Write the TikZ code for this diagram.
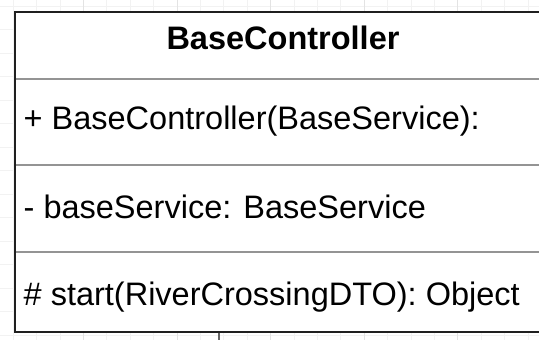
\documentclass[tikz,border=0pt]{standalone}
\usepackage{fontspec}
\setmainfont{Liberation Sans}
\begin{document}
\begin{tikzpicture}[x=1pt,y=-1pt,
  gridminor/.style={draw=black!5,line width=0.8pt},
  gridmajor/.style={draw=black!11,line width=0.9pt},
  classframe/.style={draw=black!88,line width=2pt,fill=white},
  divider/.style={draw=black!42,line width=1.3pt},
  member/.style={anchor=base west,inner sep=0pt,font=\fontsize{32.5}{39}\selectfont},
  classtitle/.style={anchor=base,inner sep=0pt,font=\bfseries\fontsize{32.5}{39}\selectfont}]
  \useasboundingbox (0,0) rectangle (539,340);
  \fill[white] (0,0) rectangle (539,340);
  % background grid
  \foreach \i in {0,...,22} {
    \pgfmathsetmacro{\gx}{13.2+23.4*\i}
    \draw[gridminor] (\gx,0) -- (\gx,340);
  }
  \foreach \i in {0,...,14} {
    \pgfmathsetmacro{\gy}{6+23.5*\i}
    \draw[gridminor] (0,\gy) -- (539,\gy);
  }
  \foreach \i in {0,...,4} {
    \pgfmathsetmacro{\gx}{83.4+93.6*\i}
    \draw[gridmajor] (\gx,0) -- (\gx,340);
  }
  % class box corners and compartment boundaries
  \coordinate (tl) at (15,12);
  \coordinate (br) at (552,332);
  \coordinate (d1l) at (15,79);  \coordinate (d1r) at (552,79);
  \coordinate (d2l) at (15,165); \coordinate (d2r) at (552,165);
  \coordinate (d3l) at (15,252); \coordinate (d3r) at (552,252);
  \coordinate (tick) at (219,332);
  \coordinate (tickend) at (219,341);
  \draw[draw=black!60,line width=1.5pt] (tick) -- (tickend);
  \draw[classframe] (tl) rectangle (br);
  \draw[divider] (d1l) -- (d1r);
  \draw[divider] (d2l) -- (d2r);
  \draw[divider] (d3l) -- (d3r);
  \draw[classframe,fill=none] (tl) rectangle (br);
  % texts
  \node[classtitle] (title) at (283,49) {BaseController};
  \node[member] (ctor) at (23.5,129.5) {+ BaseController(BaseService):};
  \node[member] (field) at (23.5,218) {- baseService: BaseService};
  \node[member] (method) at (23.5,305) {\# start(RiverCrossingDTO): Object};
\end{tikzpicture}
\end{document}
